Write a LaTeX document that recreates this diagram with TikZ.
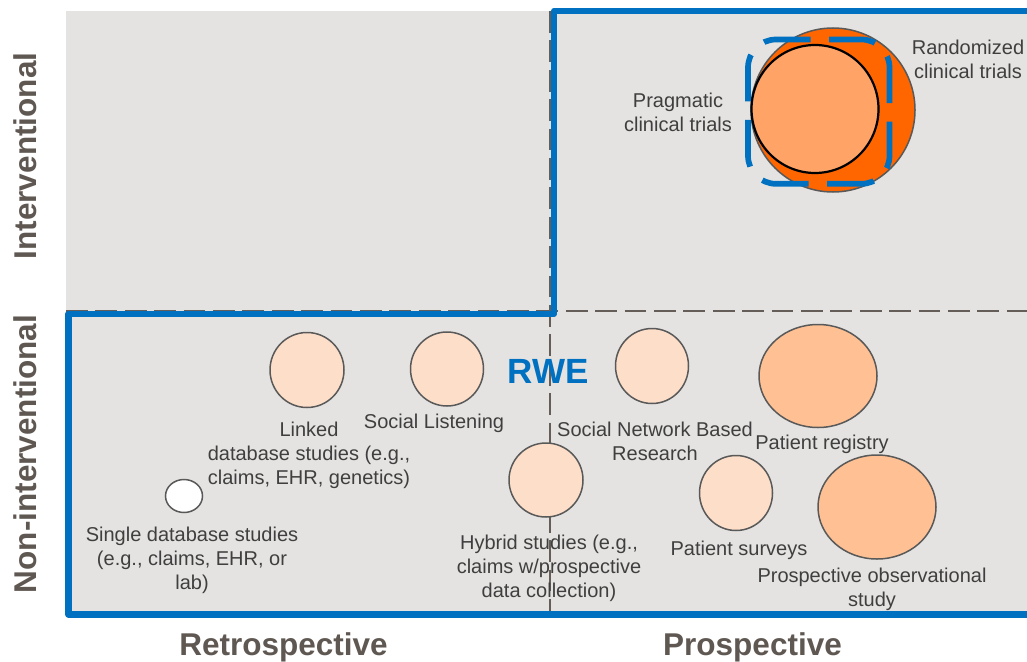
\documentclass[tikz,border=0pt]{standalone}
\usepackage{fontspec}
\setmainfont{Liberation Sans}
\usetikzlibrary{shapes.geometric}
\definecolor{bggray}{HTML}{E4E3E1}
\definecolor{rweblue}{HTML}{0070C0}
\definecolor{dashgray}{HTML}{655D57}
\definecolor{axistext}{HTML}{5F5751}
\definecolor{labeltext}{HTML}{3F3F3F}
\definecolor{lightpeach}{HTML}{FDDFC9}
\definecolor{midpeach}{HTML}{FFC194}
\definecolor{rctorange}{HTML}{FF6600}
\definecolor{pragorange}{HTML}{FFA366}
\definecolor{bubline}{HTML}{595959}
\begin{document}
\begin{tikzpicture}[x=1pt,y=-1pt,
  bubble/.style={ellipse, draw=bubline, line width=1.5pt, inner sep=0pt},
  lbl/.style={text=labeltext, font=\fontsize{20}{24}\selectfont, align=center, inner sep=0pt},
  axislbl/.style={text=axistext, font=\fontsize{31.5}{36}\selectfont\bfseries, inner sep=0pt},
  griddash/.style={draw=dashgray, line width=2.7pt, dash pattern=on 21.7pt off 7.7pt},
  rweline/.style={draw=rweblue, line width=6.2pt, line join=round}
]
\useasboundingbox (0,0) rectangle (1027,661);
% background
\fill[bggray] (66,11) rectangle (1027,614);
% grid dashed lines
\coordinate (hl) at (66,311);
\coordinate (hr) at (1027,311);
\coordinate (vt) at (550,11);
\coordinate (vb) at (550,614);
\draw[griddash] (hl) -- (hr);
\draw[griddash] (vt) -- (vb);
% RWE outline
\coordinate (b1) at (1027,11);
\coordinate (b2) at (554,11);
\coordinate (b3) at (554,314);
\coordinate (b4) at (68.4,314);
\coordinate (b5) at (68.4,614.5);
\coordinate (b6) at (1027,614.5);
\draw[rweline] (b1) -- (b2) -- (b3) -- (b4) -- (b5) -- (b6);
% interventional bubbles
\node[bubble, fill=rctorange, minimum width=164pt, minimum height=164pt] (rct) at (833,110) {};
\node[bubble, fill=pragorange, draw=black, line width=2.2pt, minimum width=127pt, minimum height=128pt] (prag) at (815,109) {};
\coordinate (r1) at (824,39.5);
\coordinate (r2) at (889.5,39.5);
\coordinate (r3) at (889.5,183.8);
\coordinate (r4) at (748,183.8);
\coordinate (r5) at (748,39.5);
\draw[draw=rweblue, line width=5.7pt, rounded corners=28pt, dash pattern=on 47pt off 18.5pt, dash phase=23.5pt]
  (r1) -- (r2) -- (r3) -- (r4) -- (r5) -- cycle;
% non-interventional bubbles
\node[bubble, fill=lightpeach, minimum width=74pt, minimum height=75pt] (linked) at (307,370) {};
\node[bubble, fill=lightpeach, minimum width=73pt, minimum height=74pt] (social) at (447,369) {};
\node[bubble, fill=white, minimum width=37pt, minimum height=33pt] (single) at (184,496) {};
\node[bubble, fill=lightpeach, minimum width=74pt, minimum height=74pt] (hybrid) at (546,480) {};
\node[bubble, fill=lightpeach, minimum width=73pt, minimum height=75pt] (snbr) at (652,366) {};
\node[bubble, fill=midpeach, minimum width=118pt, minimum height=103pt] (registry) at (818,376) {};
\node[bubble, fill=lightpeach, minimum width=73pt, minimum height=75pt] (surveys) at (736,493) {};
\node[bubble, fill=midpeach, minimum width=118pt, minimum height=104pt] (prosp) at (877,507) {};
% labels
\node[lbl] (lprag) at (678,112.5) {Pragmatic\\clinical trials};
\node[lbl] (lrct) at (968,59.5) {Randomized\\clinical trials};
\node[lbl] (llinked) at (309,455.5) {Linked\\database studies (e.g.,\\claims, EHR, genetics)};
\node[lbl] (lsocial) at (434,423) {Social Listening};
\node[lbl] (lsingle) at (192,560.5) {Single database studies\\(e.g., claims, EHR, or\\lab)};
\node[lbl] (lhybrid) at (549,568.5) {Hybrid studies (e.g.,\\claims w/prospective\\data collection)};
\node[lbl] (lsnbr) at (655,441) {Social Network Based\\Research};
\node[lbl] (lregistry) at (822,444) {Patient registry};
\node[lbl] (lsurveys) at (739,550) {Patient surveys};
\node[lbl] (lprosp) at (872,589.5) {Prospective observational\\study};
\node[text=rweblue, font=\fontsize{35}{40}\selectfont\bfseries, inner sep=0pt, anchor=base] (rwe) at (548,383) {RWE};
% axis labels
\node[axislbl, anchor=base] (retro) at (283.5,655) {Retrospective};
\node[axislbl, anchor=base] (prospax) at (752.5,655) {Prospective};
\node[axislbl, rotate=90] (interv) at (25,156) {Interventional};
\node[axislbl, rotate=90] (noninterv) at (25,454) {Non-interventional};
\end{tikzpicture}
\end{document}
